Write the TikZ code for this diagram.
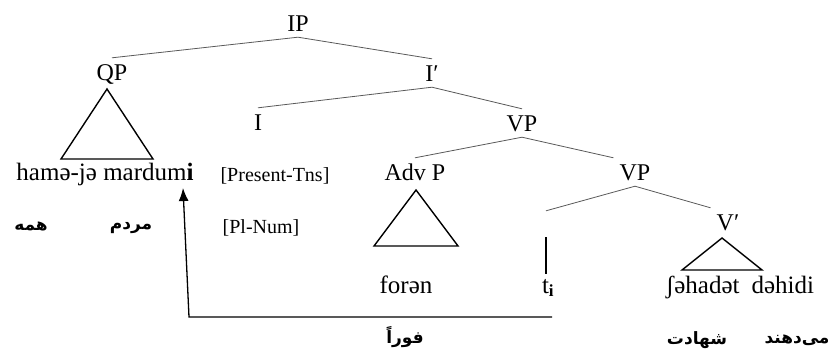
\documentclass[tikz,border=0pt]{standalone}
\usepackage{fontspec}
\setmainfont{Liberation Serif}
\newfontfamily\farsi[Script=Arabic]{DejaVu Sans}
\TeXXeTstate=1
\usetikzlibrary{arrows.meta}
\newcommand*{\roof}[4]{%
\draw[#4] (#1) -- ++(-#2, #3) -- ++(2*#2, 0) -- cycle;}

\begin{document}
\begin{tikzpicture}[x=1pt, y=-1pt,
  cat/.style={font=\fontsize{24}{24}\selectfont, inner sep=6pt, text height=16pt, text depth=0pt},
  word/.style={font=\fontsize{25}{25}\selectfont, anchor=base, inner sep=0pt},
  feat/.style={font=\fontsize{20}{20}\selectfont, anchor=base, inner sep=0pt},
  fa/.style={font=\farsi\bfseries\fontsize{17}{17}\selectfont, inner sep=0pt},
  branch/.style={draw=black!65, line width=0.8pt},
  tri/.style={draw=black, line width=1.4pt}]

\useasboundingbox (0,0) rectangle (829,351);

% tree labels
\node[cat] (ip) at (298,23) {IP};
\node[cat] (qp) at (112,72) {QP};
\node[cat] (ibar) at (432,73) {I′};
\node[cat] (infl) at (258,122) {I};
\node[cat] (vp) at (522,123) {VP};
\node[cat] (advp) at (415,172) {Adv P};
\node[cat] (vpb) at (635,172) {VP};
\node[cat] (vbar) at (728,222) {V′};
\node[minimum height=26pt, inner sep=0pt] (tgap) at (546,224) {};

\draw[branch] (ip.south) -- (qp.north);
\draw[branch] (ip.south) -- (ibar.north);
\draw[branch] (ibar.south) -- (infl.north);
\draw[branch] (ibar.south) -- (vp.north);
\draw[branch] (vp.south) -- (advp.north);
\draw[branch] (vp.south) -- (vpb.north west);
\draw[branch] (vpb.south) -- (tgap.north);
\draw[branch] (vpb.south) -- (vbar.north west);

\roof{107,89}{46}{70}{tri}
\roof{416,190}{42}{56}{tri}
\roof{722,238}{40}{32}{tri}

% words and glosses
\node[word] (hmm) at (105,180) {hamə-jə mardum\textbf{i}};
\node[feat] (tns) at (275,181) {[Present-Tns]};
\node[feat] (num) at (261,233) {[Pl-Num]};
\node[word] (foren) at (406,293) {forən};
\node[word, anchor=base west, outer sep=5pt] (trace) at (537,293) {t\raisebox{-3pt}{\fontsize{17}{17}\selectfont\bfseries i}};
\node[word] (shd) at (740,293) {ʃəhadət\hspace{12pt}dəhidi};

\node[fa] (fahame) at (31,226) {\beginR همه\endR};
\node[fa] (famardom) at (131,228) {\beginR مردم\endR};
\node[fa] (fafowran) at (405,337) {\beginR فوراً\endR};
\node[fa] (fashahadat) at (697,340) {\beginR شهادت\endR};
\node[fa] (famidahand) at (797,340) {\beginR می‌دهند\endR};

\draw[line width=1.1pt] (tgap.south) -- (tgap.south |- trace.north);

\coordinate (tfoot) at (552,317);
\coordinate (tbend) at (189,317);
\coordinate (mtip) at (183,188);
\draw[line width=1.3pt, -{Latex[length=13pt, width=10pt]}] (tfoot) -- (tbend) -- (mtip);
\end{tikzpicture}
\end{document}
